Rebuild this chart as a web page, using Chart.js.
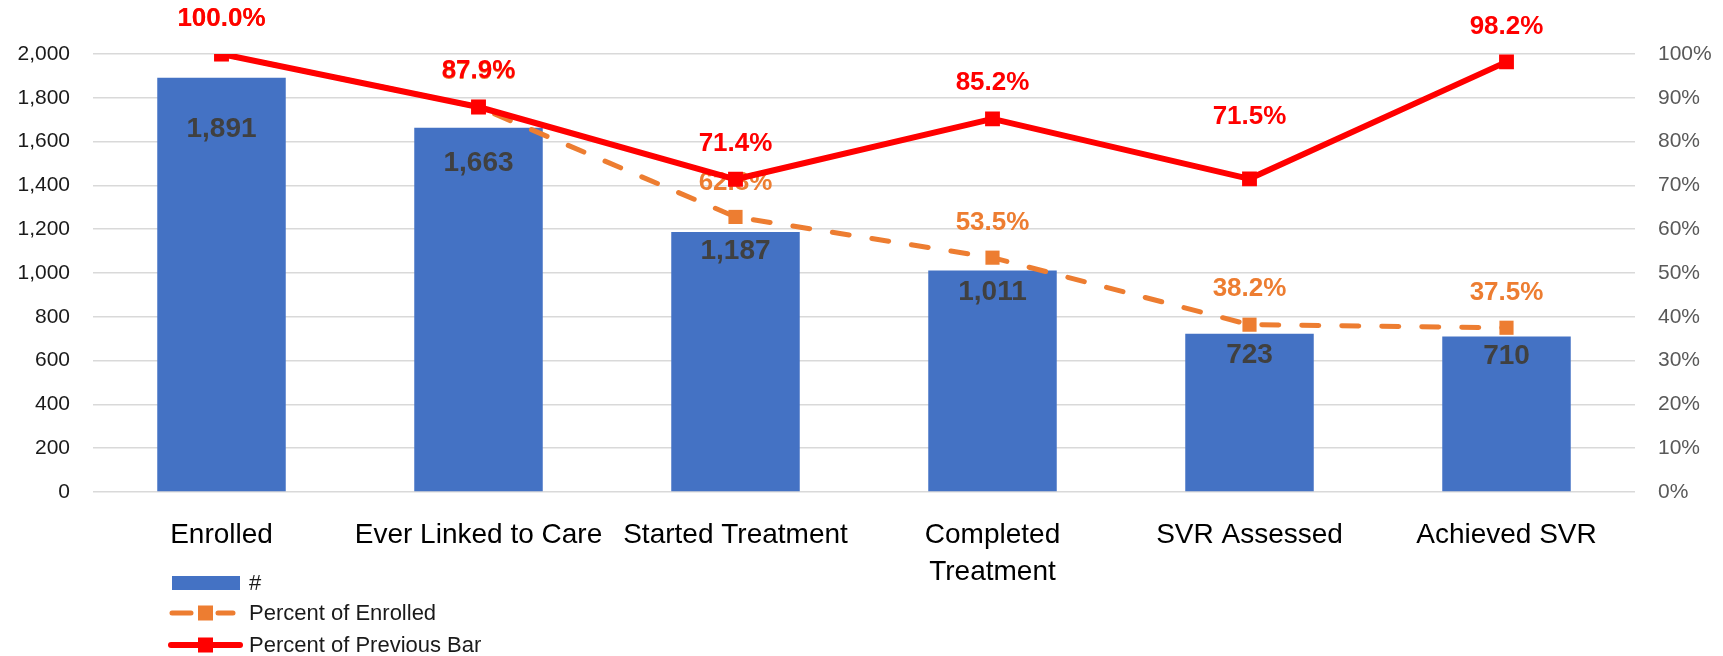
<!DOCTYPE html>
<html>
<head>
<meta charset="utf-8">
<script src="https://cdn.jsdelivr.net/npm/chart.js@4/dist/chart.umd.min.js"></script>
<style>
  html, body { margin: 0; padding: 0; background: #ffffff; }
  #wrap { width: 1723px; height: 656px; position: relative; }
</style>
</head>
<body>
<div id="wrap"><canvas id="c"></canvas></div>
<script>
// ---- data ----
const categories = ['Enrolled', 'Ever Linked to Care', 'Started Treatment', ['Completed', 'Treatment'], 'SVR Assessed', 'Achieved SVR'];
const counts = [1891, 1663, 1187, 1011, 723, 710];
const pctOfEnrolled = [100.0, 87.9, 62.8, 53.5, 38.2, 37.5];
const pctOfPrevious = [100.0, 87.9, 71.4, 85.2, 71.5, 98.2];
const seriesNames = ['#', 'Percent of Enrolled', 'Percent of Previous Bar'];
const leftAxis = { min: 0, max: 2000, step: 200 };
const rightAxis = { min: 0, max: 100, step: 10 };

// ---- label placement (pixels, styling only) ----
const barLabelDrop = [51, 35, 19, 22, 22, 20];
const enrolledLabelRise = [35, 35, 34, 35, 36, 35];
const previousLabelRise = [35, 36, 35, 36, 62, 35];

const FONT = "'Liberation Sans', Arial, sans-serif";
Chart.defaults.font.family = FONT;

const BLUE = '#4472C4', ORANGE = '#ED7D31', RED = '#FF0000';

const labelPlugin = {
  id: 'valueLabels',
  afterDatasetDraw(chart, args) {
    const ctx = chart.ctx;
    const i = args.index;
    const meta = args.meta;
    ctx.save();
    ctx.textAlign = 'center';
    ctx.textBaseline = 'middle';
    meta.data.forEach((el, k) => {
      if (i === 0) {
        ctx.font = 'bold 28px ' + FONT;
        ctx.fillStyle = '#404040';
        ctx.fillText(counts[k].toLocaleString('en-US'), el.x, el.y + barLabelDrop[k]);
      } else if (i === 1) {
        ctx.font = 'bold 26px ' + FONT;
        ctx.fillStyle = ORANGE;
        ctx.fillText(pctOfEnrolled[k].toFixed(1) + '%', el.x, el.y - enrolledLabelRise[k]);
      } else if (i === 2) {
        ctx.font = 'bold 26px ' + FONT;
        ctx.fillStyle = RED;
        ctx.fillText(pctOfPrevious[k].toFixed(1) + '%', el.x, el.y - previousLabelRise[k]);
      }
    });
    ctx.restore();
  }
};

const legendPlugin = {
  id: 'stackedLegend',
  afterDraw(chart) {
    const ctx = chart.ctx;
    const ds = chart.data.datasets;
    const rowsY = [583, 613, 645];
    const textX = 249;
    ctx.save();
    // bar swatch
    ctx.fillStyle = ds[0].backgroundColor;
    ctx.fillRect(172, rowsY[0] - 7, 68, 14);
    // orange dashed with marker
    ctx.strokeStyle = ds[1].borderColor;
    ctx.lineWidth = ds[1].borderWidth;
    ctx.lineCap = 'round';
    ctx.beginPath();
    ctx.moveTo(172, rowsY[1]); ctx.lineTo(191, rowsY[1]);
    ctx.moveTo(218, rowsY[1]); ctx.lineTo(233, rowsY[1]);
    ctx.stroke();
    ctx.fillStyle = ds[1].pointBackgroundColor;
    ctx.fillRect(198, rowsY[1] - 7.5, 15, 15);
    // red solid with marker
    ctx.strokeStyle = ds[2].borderColor;
    ctx.lineWidth = ds[2].borderWidth;
    ctx.beginPath();
    ctx.moveTo(171, rowsY[2]); ctx.lineTo(240, rowsY[2]);
    ctx.stroke();
    ctx.fillStyle = ds[2].pointBackgroundColor;
    ctx.fillRect(198, rowsY[2] - 7.5, 15, 15);
    // texts
    ctx.fillStyle = '#1a1a1a';
    ctx.textAlign = 'left';
    ctx.textBaseline = 'middle';
    ctx.font = '22px ' + FONT;
    seriesNames.forEach((n, k) => ctx.fillText(n, textX, rowsY[k] + 1));
    ctx.restore();
  }
};

new Chart(document.getElementById('c'), {
  type: 'bar',
  data: {
    labels: categories,
    datasets: [
      {
        type: 'bar',
        label: seriesNames[0],
        data: counts,
        yAxisID: 'y',
        backgroundColor: BLUE,
        borderWidth: 0,
        barPercentage: 0.5,
        categoryPercentage: 1.0,
        order: 3
      },
      {
        type: 'line',
        label: seriesNames[1],
        data: pctOfEnrolled,
        yAxisID: 'y1',
        borderColor: ORANGE,
        backgroundColor: ORANGE,
        borderWidth: 5,
        borderDash: [17, 23],
        borderCapStyle: 'round',
        tension: 0,
        pointStyle: 'rect',
        pointRadius: 10,
        pointBorderWidth: 0,
        pointBackgroundColor: ORANGE,
        pointBorderColor: ORANGE,
        fill: false,
        order: 2
      },
      {
        type: 'line',
        label: seriesNames[2],
        data: pctOfPrevious,
        yAxisID: 'y1',
        borderColor: RED,
        backgroundColor: RED,
        borderWidth: 6,
        borderJoinStyle: 'round',
        tension: 0,
        pointStyle: 'rect',
        pointRadius: 10.5,
        pointBorderWidth: 0,
        pointBackgroundColor: RED,
        pointBorderColor: RED,
        fill: false,
        order: 1
      }
    ]
  },
  options: {
    responsive: true,
    maintainAspectRatio: false,
    animation: false,
    layout: { padding: { top: 54, left: 0, right: 0, bottom: 0 } },
    plugins: {
      legend: { display: false },
      tooltip: { enabled: false }
    },
    scales: {
      x: {
        offset: true,
        grid: { display: false, drawTicks: false },
        border: { display: false },
        ticks: {
          color: '#000000',
          font: { size: 28, lineHeight: 1.35 },
          padding: 24,
          maxRotation: 0,
          minRotation: 0,
          autoSkip: false
        },
        afterFit(scale) { scale.height = 164; }
      },
      y: {
        position: 'left',
        min: leftAxis.min,
        max: leftAxis.max,
        ticks: {
          stepSize: leftAxis.step,
          color: '#1a1a1a',
          font: { size: 21 },
          padding: 23,
          callback: v => Number(v).toLocaleString('en-US')
        },
        grid: { color: '#D9D9D9', lineWidth: 1.5, drawTicks: false },
        border: { display: false },
        afterFit(scale) { scale.width = 93; }
      },
      y1: {
        position: 'right',
        min: rightAxis.min,
        max: rightAxis.max,
        ticks: {
          stepSize: rightAxis.step,
          color: '#595959',
          font: { size: 21 },
          padding: 23,
          callback: v => v + '%'
        },
        grid: { display: false, drawTicks: false },
        border: { display: false },
        afterFit(scale) { scale.width = 88; }
      }
    }
  },
  plugins: [labelPlugin, legendPlugin]
});
</script>
</body>
</html>
